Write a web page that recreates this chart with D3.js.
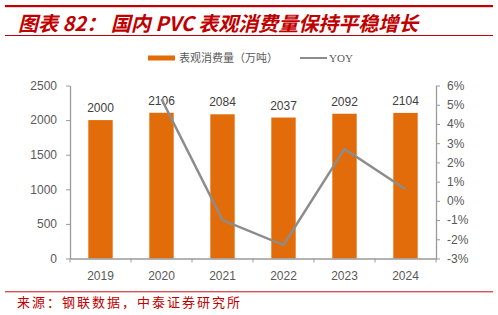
<!DOCTYPE html>
<html>
<head>
<meta charset="utf-8">
<script src="https://d3js.org/d3.v7.min.js"></script>
<style>
  body { margin: 0; background: #fff; }
  svg { display: block; }
</style>
</head>
<body>
<div id="container"></div>
<script>
  const years = ["2019", "2020", "2021", "2022", "2023", "2024"];
  const consumption = [2000, 2106, 2084, 2037, 2092, 2104];
  const yoyYears = ["2020", "2021", "2022", "2023", "2024"];
  const yoy = [5.3, -1.0, -2.3, 2.7, 0.6];
  const leftTicks = [0, 500, 1000, 1500, 2000, 2500];
  const rightTicks = [-3, -2, -1, 0, 1, 2, 3, 4, 5, 6];

  const width = 498, height = 315;
  const plotLeft = 70, plotRight = 436, plotTop = 85.5, plotBottom = 258.5;

  const svg = d3.select("#container").append("svg")
    .attr("width", width).attr("height", height);

  // header
  svg.append("rect").attr("x", 5).attr("y", 5).attr("width", 488).attr("height", 2.2).attr("fill", "#C00000");
  svg.append("text").attr("x", 18).attr("y", 31)
    .attr("font-family", "'Noto Sans CJK SC', 'Liberation Sans', sans-serif")
    .attr("font-size", 20).attr("font-weight", "bold").attr("font-style", "italic")
    .attr("fill", "#C00000")
    .text("图表 82： 国内 PVC 表观消费量保持平稳增长");
  svg.append("rect").attr("x", 5).attr("y", 35).attr("width", 488).attr("height", 1).attr("fill", "#C00000");

  const x = d3.scaleBand().domain(years).range([plotLeft, plotRight]).paddingInner(0.6).paddingOuter(0.3);
  const y = d3.scaleLinear().domain([0, 2500]).range([plotBottom, plotTop]);
  const y2 = d3.scaleLinear().domain([-3, 6]).range([plotBottom, plotTop]);
  const gray = "#9a9a9a", labelColor = "#595959";

  // legend
  const lg = svg.append("g").attr("font-family", "'Noto Sans CJK SC', sans-serif").attr("font-size", 11).attr("fill", labelColor);
  lg.append("rect").attr("x", 148).attr("y", 55.5).attr("width", 27).attr("height", 5).attr("fill", "#E36C0A");
  lg.append("text").attr("x", 179).attr("y", 62).text("表观消费量（万吨）");
  lg.append("line").attr("x1", 300).attr("x2", 327).attr("y1", 58).attr("y2", 58).attr("stroke", "#8c8c8c").attr("stroke-width", 2);
  lg.append("text").attr("x", 329).attr("y", 62).attr("font-family", "'Liberation Serif', serif").text("YOY");

  // bars
  svg.append("g").selectAll("rect").data(years).join("rect")
    .attr("x", d => x(d)).attr("width", x.bandwidth())
    .attr("y", (d, i) => y(consumption[i]))
    .attr("height", (d, i) => plotBottom - y(consumption[i]))
    .attr("fill", "#E36C0A");

  svg.append("g").selectAll("text").data(years).join("text")
    .attr("x", d => x(d) + x.bandwidth() / 2)
    .attr("y", (d, i) => y(consumption[i]) - 8)
    .attr("text-anchor", "middle")
    .attr("font-family", "'Liberation Sans', Arial, sans-serif").attr("font-size", 12)
    .attr("fill", "#404040")
    .text((d, i) => consumption[i]);

  // left axis
  const ax = svg.append("g").attr("transform", `translate(${plotLeft},0)`)
    .call(d3.axisLeft(y).tickValues(leftTicks).tickSize(4).tickPadding(9).tickSizeOuter(0).tickFormat(d3.format("d")));
  // right axis
  const ax2 = svg.append("g").attr("transform", `translate(${plotRight},0)`)
    .call(d3.axisRight(y2).tickValues(rightTicks).tickSize(4).tickPadding(7).tickSizeOuter(0).tickFormat(d => d + "%"));
  // x axis
  const bx = svg.append("g").attr("transform", `translate(0,${plotBottom})`)
    .call(d3.axisBottom(x).tickSize(0).tickPadding(13).tickSizeOuter(0));
  const step = x.step();
  bx.selectAll(".bound").data(d3.range(years.length + 1)).join("line")
    .attr("class", "bound")
    .attr("x1", i => plotLeft + i * step).attr("x2", i => plotLeft + i * step)
    .attr("y1", 0).attr("y2", 4);

  [ax, ax2, bx].forEach(g => {
    g.selectAll("path").attr("stroke", gray).attr("stroke-width", 1.3);
    g.selectAll("line").attr("stroke", gray);
    g.selectAll("text").attr("font-family", "'Liberation Sans', Arial, sans-serif")
      .attr("font-size", 12).attr("fill", labelColor);
  });

  // yoy line
  const line = d3.line()
    .x((d, i) => x(yoyYears[i]) + x.bandwidth() / 2)
    .y(d => y2(d));
  svg.append("path").datum(yoy).attr("d", line)
    .attr("fill", "none").attr("stroke", "#8c8c8c").attr("stroke-width", 2.5);

  // footer
  svg.append("rect").attr("x", 5).attr("y", 291).attr("width", 488).attr("height", 1.4).attr("fill", "#D9545A");
  svg.append("text").attr("x", 17).attr("y", 307)
    .attr("font-family", "'Noto Sans CJK SC', sans-serif").attr("font-size", 13)
    .attr("letter-spacing", 2)
    .attr("fill", "#C00000")
    .text("来源：钢联数据，中泰证券研究所");
</script>
</body>
</html>
